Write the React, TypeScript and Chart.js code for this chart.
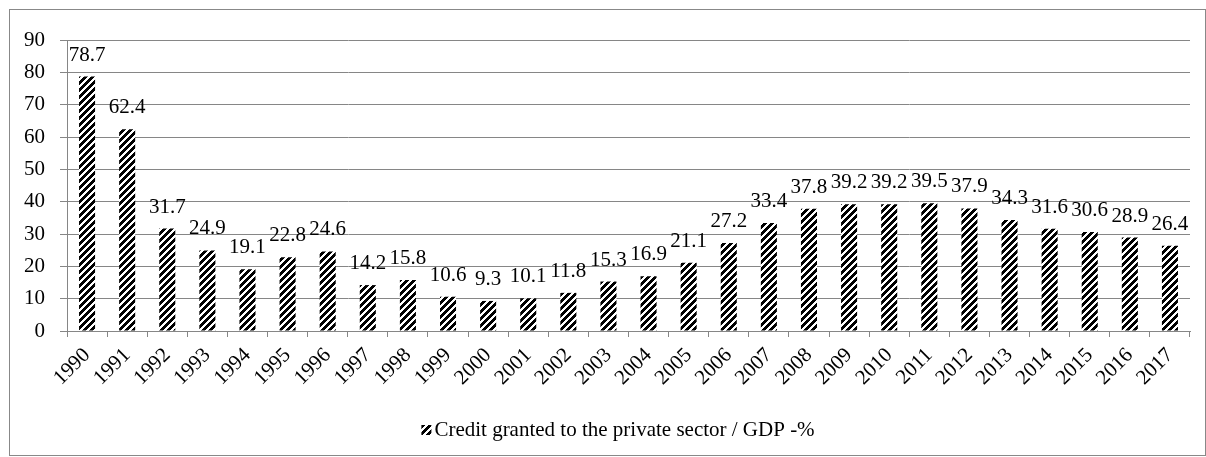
import React, { useEffect, useRef } from "react";
import { Chart, registerables } from "chart.js";

Chart.register(...registerables);

const years = ["1990","1991","1992","1993","1994","1995","1996","1997","1998","1999","2000","2001","2002","2003","2004","2005","2006","2007","2008","2009","2010","2011","2012","2013","2014","2015","2016","2017"];
const creditToGdp = [78.7, 62.4, 31.7, 24.9, 19.1, 22.8, 24.6, 14.2, 15.8, 10.6, 9.3, 10.1, 11.8, 15.3, 16.9, 21.1, 27.2, 33.4, 37.8, 39.2, 39.2, 39.5, 37.9, 34.3, 31.6, 30.6, 28.9, 26.4];
const seriesLabel = "Credit granted to the private sector / GDP -%";
const yTicks = [0, 10, 20, 30, 40, 50, 60, 70, 80, 90];

const FONT = "'Liberation Serif', 'Times New Roman', serif";
const FS = 21;
const GRID = "#868686";

function makePattern(): CanvasPattern | string {
  const s = 7;
  const c = document.createElement("canvas");
  c.width = s;
  c.height = s;
  const cx = c.getContext("2d");
  if (!cx) return "#000";
  const img = cx.createImageData(s, s);
  for (let y = 0; y < s; y++) {
    for (let x = 0; x < s; x++) {
      const k = (x + y) % s;
      const black = k < 4;
      const i = (y * s + x) * 4;
      const v = black ? 0 : 255;
      img.data[i] = v;
      img.data[i + 1] = v;
      img.data[i + 2] = v;
      img.data[i + 3] = 255;
    }
  }
  cx.putImageData(img, 0, 0);
  const p = cx.createPattern(c, "repeat");
  return p || "#000";
}

export default function App() {
  const ref = useRef<HTMLCanvasElement | null>(null);
  useEffect(() => {
    if (!ref.current) return;
    const pattern = makePattern();

    const labelPlugin = {
      id: "barLabels",
      afterDatasetsDraw(chart: any) {
        const ctx = chart.ctx;
        const meta = chart.getDatasetMeta(0);
        ctx.save();
        ctx.font = `${FS}px ${FONT}`;
        ctx.fillStyle = "#000";
        ctx.textAlign = "center";
        ctx.textBaseline = "alphabetic";
        meta.data.forEach((el: any, i: number) => {
          ctx.fillText(String(creditToGdp[i]), el.x, el.y - 16);
        });
        ctx.restore();
      },
    };

    const legendPlugin = {
      id: "customLegend",
      afterDraw(chart: any) {
        const ctx = chart.ctx;
        ctx.save();
        ctx.font = `${FS}px ${FONT}`;
        const tw = ctx.measureText(seriesLabel).width;
        const box = 10;
        const gap = 3;
        const total = box + gap + tw;
        const cxm = 608;
        const y = 420;
        const x0 = cxm - total / 2;
        ctx.fillStyle = pattern as any;
        ctx.fillRect(x0, y - box / 2, box, box);
        ctx.fillStyle = "#000";
        ctx.textAlign = "left";
        ctx.textBaseline = "middle";
        ctx.fillText(seriesLabel, x0 + box + gap, y);
        ctx.restore();
      },
    };

    const chart = new Chart(ref.current, {
      type: "bar",
      data: {
        labels: years,
        datasets: [
          {
            label: seriesLabel,
            data: creditToGdp,
            backgroundColor: pattern as any,
            borderWidth: 0,
            barPercentage: 0.4,
            categoryPercentage: 1,
          },
        ],
      },
      options: {
        animation: false,
        responsive: false,
        maintainAspectRatio: false,
        layout: { padding: { left: 0, right: 15, top: 30, bottom: 54 } },
        plugins: {
          legend: { display: false },
          tooltip: { enabled: false },
        },
        scales: {
          x: {
            grid: {
              display: true,
              drawOnChartArea: false,
              drawTicks: true,
              tickLength: 6,
              color: GRID,
              offset: true,
            },
            border: { color: GRID, width: 1 },
            ticks: {
              color: "#000",
              font: { family: FONT, size: FS },
              minRotation: 45,
              maxRotation: 45,
              padding: 6,
              autoSkip: false,
            },
            afterFit(s: any) {
              s.height = 70;
            },
          },
          y: {
            min: 0,
            max: 90,
            afterBuildTicks(s: any) {
              s.ticks = yTicks.map((v) => ({ value: v }));
            },
            grid: {
              color: GRID,
              tickLength: 7,
              lineWidth: 1,
            },
            border: { color: GRID, width: 1 },
            ticks: {
              color: "#000",
              font: { family: FONT, size: FS },
              padding: 15,
            },
            afterFit(s: any) {
              s.width = 57;
            },
          },
        },
      },
      plugins: [labelPlugin, legendPlugin],
    });
    return () => chart.destroy();
  }, []);

  return (
    <div
      style={{
        position: "absolute",
        left: 9,
        top: 9,
        width: 1197,
        height: 447,
        border: "1px solid #888",
        boxSizing: "border-box",
        background: "#fff",
      }}
    >
      <canvas ref={ref} width={1195} height={445} style={{ display: "block" }} />
    </div>
  );
}
